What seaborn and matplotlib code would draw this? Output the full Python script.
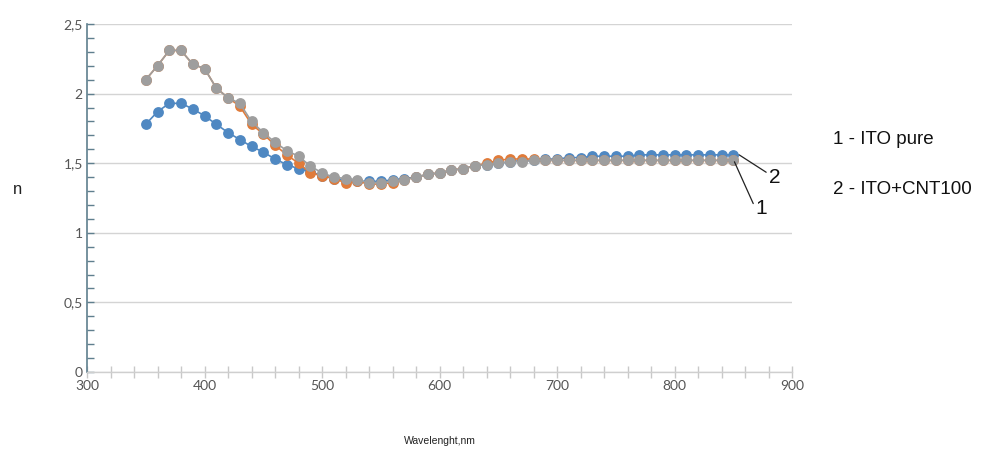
import matplotlib
matplotlib.use("Agg")
import matplotlib.pyplot as plt
import matplotlib.ticker as mticker
import numpy as np
import pandas as pd
import seaborn as sns

# Wavelength grid (nm) and refractive index n of the three measured films
wavelength = list(range(350, 860, 10))

n_blue = [1.78, 1.87, 1.93, 1.93, 1.89, 1.84, 1.78, 1.72, 1.67, 1.62,
          1.58, 1.53, 1.49, 1.46, 1.44, 1.41, 1.39, 1.38, 1.37, 1.37,
          1.37, 1.38, 1.39, 1.40, 1.42, 1.43, 1.45, 1.46, 1.48, 1.49,
          1.50, 1.51, 1.52, 1.52, 1.53, 1.53, 1.54, 1.54, 1.55, 1.55,
          1.55, 1.55, 1.56, 1.56, 1.56, 1.56, 1.56, 1.56, 1.56, 1.56,
          1.56]

n_orange = [2.10, 2.20, 2.31, 2.31, 2.21, 2.18, 2.04, 1.97, 1.91, 1.78,
            1.71, 1.63, 1.56, 1.50, 1.43, 1.41, 1.39, 1.36, 1.37, 1.35,
            1.35, 1.36, 1.38, 1.40, 1.42, 1.43, 1.45, 1.46, 1.48, 1.50,
            1.52, 1.53, 1.53, 1.53, 1.52, 1.52, 1.52, 1.52, 1.52, 1.52,
            1.52, 1.52, 1.52, 1.52, 1.52, 1.52, 1.52, 1.52, 1.52, 1.52,
            1.52]

n_grey = [2.10, 2.20, 2.31, 2.31, 2.21, 2.18, 2.04, 1.97, 1.93, 1.80,
          1.72, 1.65, 1.59, 1.55, 1.48, 1.43, 1.40, 1.39, 1.38, 1.36,
          1.36, 1.37, 1.38, 1.40, 1.42, 1.43, 1.45, 1.46, 1.48, 1.49,
          1.50, 1.51, 1.51, 1.52, 1.52, 1.52, 1.52, 1.52, 1.52, 1.52,
          1.52, 1.52, 1.52, 1.52, 1.52, 1.52, 1.52, 1.52, 1.52, 1.52,
          1.52]

series_colors = {"blue": "#4f88c2", "orange": "#e07b3a", "grey": "#9e9e9e"}

legend_lines = ["1 - ITO pure", "2 - ITO+CNT100"]
y_ticks = [0, 0.5, 1, 1.5, 2, 2.5]
y_tick_labels = ["0", "0,5", "1", "1,5", "2", "2,5"]
x_ticks = [300, 400, 500, 600, 700, 800, 900]

df = pd.DataFrame({
    "wavelength": wavelength * 3,
    "n": n_blue + n_orange + n_grey,
    "series": ["blue"] * len(wavelength) + ["orange"] * len(wavelength)
              + ["grey"] * len(wavelength),
})

sns.set_theme(style="white")
plt.rcParams["font.family"] = ["Lato", "DejaVu Sans"]

fig = plt.figure(figsize=(9.98, 4.5), dpi=100)
ax = fig.add_axes([0.0872, 0.1733, 0.7064, 0.7734])

for name in ["blue", "orange", "grey"]:
    sub = df[df["series"] == name]
    sns.lineplot(data=sub, x="wavelength", y="n", ax=ax,
                 color=series_colors[name], linewidth=1.2,
                 marker="o", markersize=7.8, markeredgewidth=0,
                 legend=False, zorder=3)

ax.set_xlim(300, 900)
ax.set_ylim(0, 2.5)

# Gridlines and axes
ax.set_yticks(y_ticks)
ax.set_yticklabels(y_tick_labels)
ax.yaxis.set_minor_locator(mticker.MultipleLocator(0.1))
ax.set_xticks(x_ticks)
ax.xaxis.set_minor_locator(mticker.MultipleLocator(20))
ax.grid(axis="y", which="major", color="#d4d4d4", linewidth=1.0, zorder=0)
ax.set_axisbelow(True)

for side in ["top", "right"]:
    ax.spines[side].set_visible(False)
ax.spines["left"].set_color("#5f7f8e")
ax.spines["left"].set_linewidth(1.2)
ax.spines["bottom"].set_color("#cfcfcf")
ax.spines["bottom"].set_linewidth(1.0)

ax.tick_params(axis="y", which="both", direction="in", left=True,
               color="#5f7f8e", length=5, width=1, labelsize=10,
               labelcolor="#555555", pad=3)
ax.tick_params(axis="x", which="both", direction="inout", bottom=True,
               color="#c8c8c8", length=8, width=1, labelsize=10,
               labelcolor="#555555", pad=2)

ax.set_xlabel("")
ax.set_ylabel("")

# Axis titles
fig.text(18 / 998, 1 - 190 / 450, "n", fontsize=12, color="#222222",
         family=["Liberation Sans"], ha="center", va="center")
fig.text(440 / 998, 1 - 441 / 450, "Wavelenght,nm", fontsize=7.5,
         color="#222222", family=["Liberation Sans"], ha="center",
         va="center")

# Series key on the right
fig.text(833 / 998, 1 - 140 / 450, legend_lines[0], fontsize=13.5,
         color="#111111", family=["Liberation Sans"], ha="left",
         va="center")
fig.text(833 / 998, 1 - 190 / 450, legend_lines[1], fontsize=13.5,
         color="#111111", family=["Liberation Sans"], ha="left",
         va="center")

# Leader lines naming the curve ends
end_x = wavelength[-1]
ax.plot([end_x + 1, end_x + 17], [n_grey[-1] - 0.01, 1.21],
        color="#222222", lw=0.9, clip_on=False, zorder=4)
ax.plot([end_x + 5, end_x + 28], [n_blue[-1], 1.435],
        color="#222222", lw=0.9, clip_on=False, zorder=4)
ax.text(end_x + 24, 1.175, "1", fontsize=15, color="#111111",
        family=["Liberation Sans"], ha="center", va="center")
ax.text(end_x + 35, 1.40, "2", fontsize=15, color="#111111",
        family=["Liberation Sans"], ha="center", va="center")

fig.savefig("out.png", dpi=100)
